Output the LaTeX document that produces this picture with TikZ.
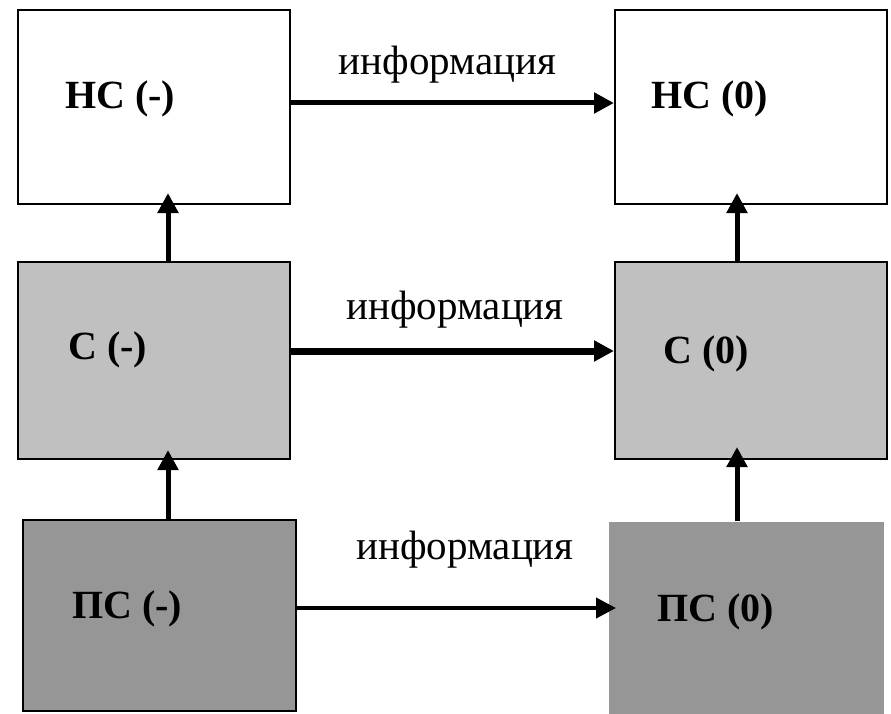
\documentclass[tikz,border=0pt]{standalone}
\usepackage{fontspec}
\setmainfont{Liberation Serif}
\usetikzlibrary{positioning,arrows.meta}
\definecolor{sgray}{RGB}{192,192,192}
\definecolor{psgray}{RGB}{150,150,150}

\begin{document}
\begin{tikzpicture}[
    box/.style={draw=black, line width=2pt, inner sep=0pt, minimum width=272pt,
                minimum height=195pt, fill=#1},
    box/.default=white,
    boxtext/.style={anchor=base west, inner sep=0pt,
                    font=\fontsize{40}{48}\selectfont\bfseries},
    info/.style={anchor=base, inner sep=0pt, font=\fontsize{41}{49}\selectfont},
    arrow/.style={-{Triangle[length=20pt,width=20pt]}, line width=#1},
    arrow/.default=5pt,
  ]
  \useasboundingbox (0,0) rectangle (891pt,-714pt);

  % Top row
  \node[box, minimum height=194pt] (hsm) at (154pt,-107pt) {};
  \node[box, minimum height=194pt, right=323pt of hsm] (hs0) {};

  % Middle row
  \node[box=sgray, minimum height=197pt, below=56pt of hsm] (sm) {};
  \node[box=sgray, minimum height=197pt, right=323pt of sm] (s0) {};

  % Bottom row
  \node[box=psgray, minimum width=273pt, minimum height=191pt,
        below=59pt of sm, xshift=5.5pt] (psm) {};
  \node[box=psgray, draw=none, minimum width=275pt, minimum height=200pt,
        right=311pt of psm, yshift=-6.5pt] (ps0) {};

  % Box texts
  \node[boxtext] (hsm-t) at ([shift={(48pt,-100pt)}]hsm.north west) {НС (-)};
  \node[boxtext] (hs0-t) at ([shift={(37pt,-100pt)}]hs0.north west) {НС (0)};
  \node[boxtext] (sm-t) at ([shift={(51pt,-98pt)}]sm.north west) {С (-)};
  \node[boxtext] (s0-t) at ([shift={(49pt,-102pt)}]s0.north west) {С (0)};
  \node[boxtext] (psm-t) at ([shift={(50pt,-99pt)}]psm.north west) {ПС (-)};
  \node[boxtext] (ps0-t) at ([shift={(49pt,-100pt)}]ps0.north west) {ПС (0)};

  % Information arrows
  \draw[arrow] ([yshift=4pt]hsm.east) -- ([yshift=4pt]hs0.west)
    node[info, midway, xshift=-5pt, yshift=28pt] (info-h) {информация};
  \draw[arrow=7pt] ([yshift=9.5pt]sm.east) -- ([yshift=9.5pt]s0.west)
    node[info, midway, xshift=2.5pt, yshift=32pt] (info-s) {информация};
  \coordinate (pa) at ([yshift=7.5pt]psm.east);
  \draw[arrow=4pt, shorten >=-8pt] (pa) -- (pa -| ps0.west)
    node[info, midway, xshift=12.5pt, yshift=49pt] (info-ps) {информация};

  % Upward arrows
  \coordinate (la) at ([xshift=14pt]sm.south);
  \coordinate (ra) at ([xshift=-14pt]s0.south);
  \draw[arrow, shorten >=-12pt] ([xshift=14pt]sm.north) -- ([xshift=14pt]hsm.south);
  \draw[arrow, shorten >=-10pt] (la |- psm.north) -- (la);
  \draw[arrow, shorten >=-12pt] ([xshift=-14pt]s0.north) -- ([xshift=-14pt]hs0.south);
  \draw[arrow, shorten >=-13pt] (ra |- ps0.north) -- (ra);

\end{tikzpicture}
\end{document}
